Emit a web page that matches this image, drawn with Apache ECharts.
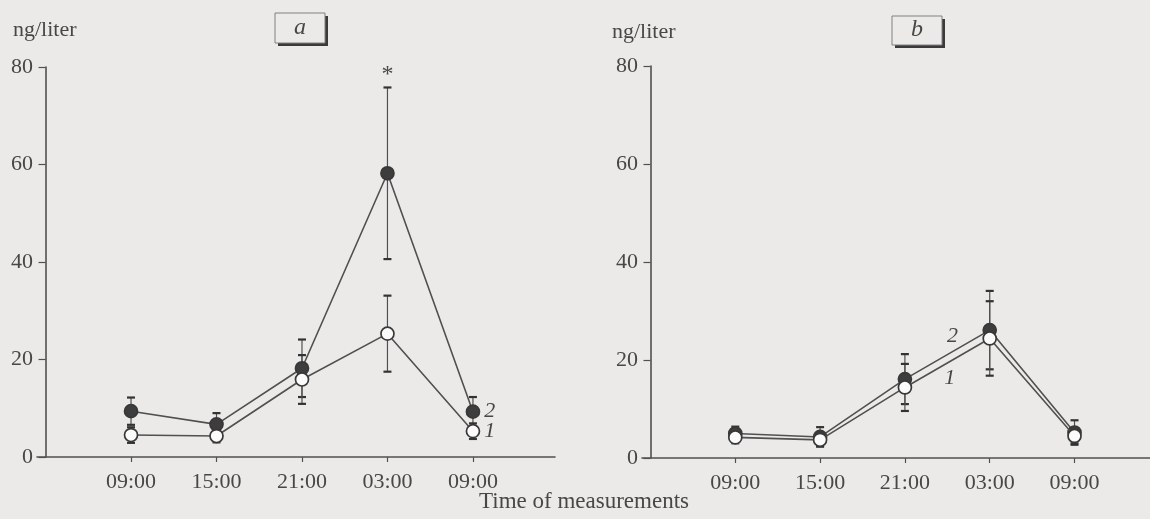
<!DOCTYPE html>
<html>
<head>
<meta charset="utf-8">
<script src="https://cdn.jsdelivr.net/npm/echarts@6/dist/echarts.min.js"></script>
<style>
html,body{margin:0;padding:0;background:#ebeae8;}
#chart{width:1150px;height:519px;}
</style>
</head>
<body>
<div id="chart"></div>
<script>
// ---- data ----
const timeLabels = ['09:00', '15:00', '21:00', '03:00', '09:00'];
const yTicks = [0, 20, 40, 60, 80];
// panel a
const aGroup1 = [4.5, 4.3, 15.9, 25.3, 5.3];
const aGroup1Err = [1.6, 1.3, 5.0, 7.8, 1.6];
const aGroup2 = [9.4, 6.7, 18.2, 58.2, 9.3];
const aGroup2Err = [2.8, 2.3, 5.9, 17.6, 3.0];
// panel b
const bGroup1 = [4.2, 3.7, 14.4, 24.4, 4.5];
const bGroup1Err = [1.2, 1.2, 4.8, 7.6, 1.5];
const bGroup2 = [5.0, 4.3, 16.1, 26.1, 5.2];
const bGroup2Err = [1.4, 2.0, 5.1, 8.0, 2.5];
const panelTitles = ['a', 'b'];
const yUnit = 'ng/liter';
const xTitle = 'Time of measurements';

// ---- styling ----
const FONT = '"Liberation Serif", "DejaVu Serif", serif';
const INK = '#474747';
const LINE = '#505050';
const BG = '#ebeae8';
const tickPositions = timeLabels.map((_, i) => i + 1);

const chart = echarts.init(document.getElementById('chart'), null, {renderer: 'canvas'});

function xAxisCfg(gridIndex, min, max) {
  return {
    type: 'value', gridIndex, min, max,
    axisLine: {show: true, onZero: true, lineStyle: {color: LINE, width: 1.6}},
    axisTick: {show: true, customValues: tickPositions, length: 5, lineStyle: {color: LINE, width: 1.2}},
    axisLabel: {
      customValues: tickPositions, margin: 14,
      formatter: v => timeLabels[Math.round(v) - 1] || '',
      fontFamily: FONT, fontSize: 22, color: INK
    },
    splitLine: {show: false}
  };
}
function yAxisCfg(gridIndex) {
  return {
    type: 'value', gridIndex, min: yTicks[0], max: yTicks[yTicks.length - 1], interval: 20,
    axisLine: {show: true, onZero: true, lineStyle: {color: LINE, width: 1.6}},
    axisTick: {show: true, length: 7, lineStyle: {color: LINE, width: 1.2}},
    axisLabel: {margin: 4, fontFamily: FONT, fontSize: 22, color: INK},
    splitLine: {show: false}
  };
}

function errSeries(axisIdx, vals, errs) {
  return {
    type: 'custom', xAxisIndex: axisIdx, yAxisIndex: axisIdx, z: 2, silent: true,
    data: vals.map((v, i) => [i + 1, v - errs[i], v + errs[i]]),
    renderItem(params, api) {
      const x = api.value(0);
      const lo = api.coord([x, api.value(1)]);
      const hi = api.coord([x, api.value(2)]);
      const w = 4;
      const st = {stroke: LINE, lineWidth: 1.2};
      const cap = {stroke: '#333', lineWidth: 2.2};
      return {type: 'group', children: [
        {type: 'line', shape: {x1: lo[0], y1: lo[1], x2: hi[0], y2: hi[1]}, style: st},
        {type: 'line', shape: {x1: hi[0] - w, y1: hi[1], x2: hi[0] + w, y2: hi[1]}, style: cap},
        {type: 'line', shape: {x1: lo[0] - w, y1: lo[1], x2: lo[0] + w, y2: lo[1]}, style: cap}
      ]};
    }
  };
}

function lineSeries(axisIdx, vals, filled, z, extra) {
  return Object.assign({
    type: 'line', xAxisIndex: axisIdx, yAxisIndex: axisIdx, z,
    data: vals.map((v, i) => [i + 1, v]),
    symbol: 'circle', symbolSize: 13, showSymbol: true,
    lineStyle: {color: LINE, width: 1.6},
    itemStyle: {color: filled ? '#3d3d3d' : '#fbfbfb', borderColor: '#383838', borderWidth: 1.7, opacity: 1},
    animation: false
  }, extra || {});
}

const numLabel = (txt, pos) => ({
  show: true, formatter: txt, position: pos || 'right', distance: 4,
  fontFamily: FONT, fontStyle: 'italic', fontSize: 22, color: INK
});

function endLabel(vals, txt) {
  return vals.map((v, i) => i === vals.length - 1
    ? {value: [i + 1, v], label: numLabel(txt)}
    : [i + 1, v]);
}

const mpLabel = (txt, italic, size) => ({
  symbol: 'circle', symbolSize: 0, silent: true, animation: false,
  label: {show: true, formatter: txt, fontFamily: FONT, fontStyle: italic ? 'italic' : 'normal', fontSize: size, color: INK, position: 'inside'}
});

const option = {
  backgroundColor: BG,
  animation: false,
  grid: [
    {left: 37, top: 67, width: 518, height: 390},
    {left: 642, top: 66, width: 508, height: 392}
  ],
  xAxis: [xAxisCfg(0, -0.1, 5.96), xAxisCfg(1, -0.1, 5.89)],
  yAxis: [yAxisCfg(0), yAxisCfg(1)],
  series: [
    errSeries(0, aGroup2, aGroup2Err),
    errSeries(0, aGroup1, aGroup1Err),
    errSeries(1, bGroup2, bGroup2Err),
    errSeries(1, bGroup1, bGroup1Err),
    lineSeries(0, aGroup2, true, 3, {
      data: endLabel(aGroup2, '2'),
      markPoint: Object.assign(mpLabel('*', false, 24), {data: [{coord: [4, 78.4]}]})
    }),
    lineSeries(0, aGroup1, false, 4, {data: endLabel(aGroup1, '1')}),
    lineSeries(1, bGroup2, true, 3, {
      markPoint: Object.assign(mpLabel('2', true, 22), {data: [{coord: [3.56, 24.9]}]})
    }),
    lineSeries(1, bGroup1, false, 4, {
      markPoint: Object.assign(mpLabel('1', true, 22), {data: [{coord: [3.53, 16.3]}]})
    })
  ],
  graphic: [
    {type: 'text', left: 13, top: 19, style: {text: yUnit, font: '22px ' + FONT, fill: INK}},
    {type: 'text', left: 612, top: 21, style: {text: yUnit, font: '22px ' + FONT, fill: INK}},
    // panel title boxes
    {type: 'rect', shape: {x: 278, y: 16, width: 50, height: 30}, style: {fill: '#3a3a3a'}},
    {type: 'rect', shape: {x: 275, y: 13, width: 50, height: 30}, style: {fill: BG, stroke: '#808080', lineWidth: 1}},
    {type: 'text', x: 300, y: 28, style: {text: panelTitles[0], font: 'italic 24px ' + FONT, fill: INK, align: 'center', verticalAlign: 'middle'}},
    {type: 'rect', shape: {x: 895, y: 19, width: 50, height: 29}, style: {fill: '#3a3a3a'}},
    {type: 'rect', shape: {x: 892, y: 16, width: 50, height: 29}, style: {fill: BG, stroke: '#808080', lineWidth: 1}},
    {type: 'text', x: 917, y: 30, style: {text: panelTitles[1], font: 'italic 24px ' + FONT, fill: INK, align: 'center', verticalAlign: 'middle'}},
    {type: 'text', x: 584, y: 502, style: {text: xTitle, font: '23px ' + FONT, fill: INK, align: 'center', verticalAlign: 'middle'}}
  ]
};
chart.setOption(option);
</script>
</body>
</html>
